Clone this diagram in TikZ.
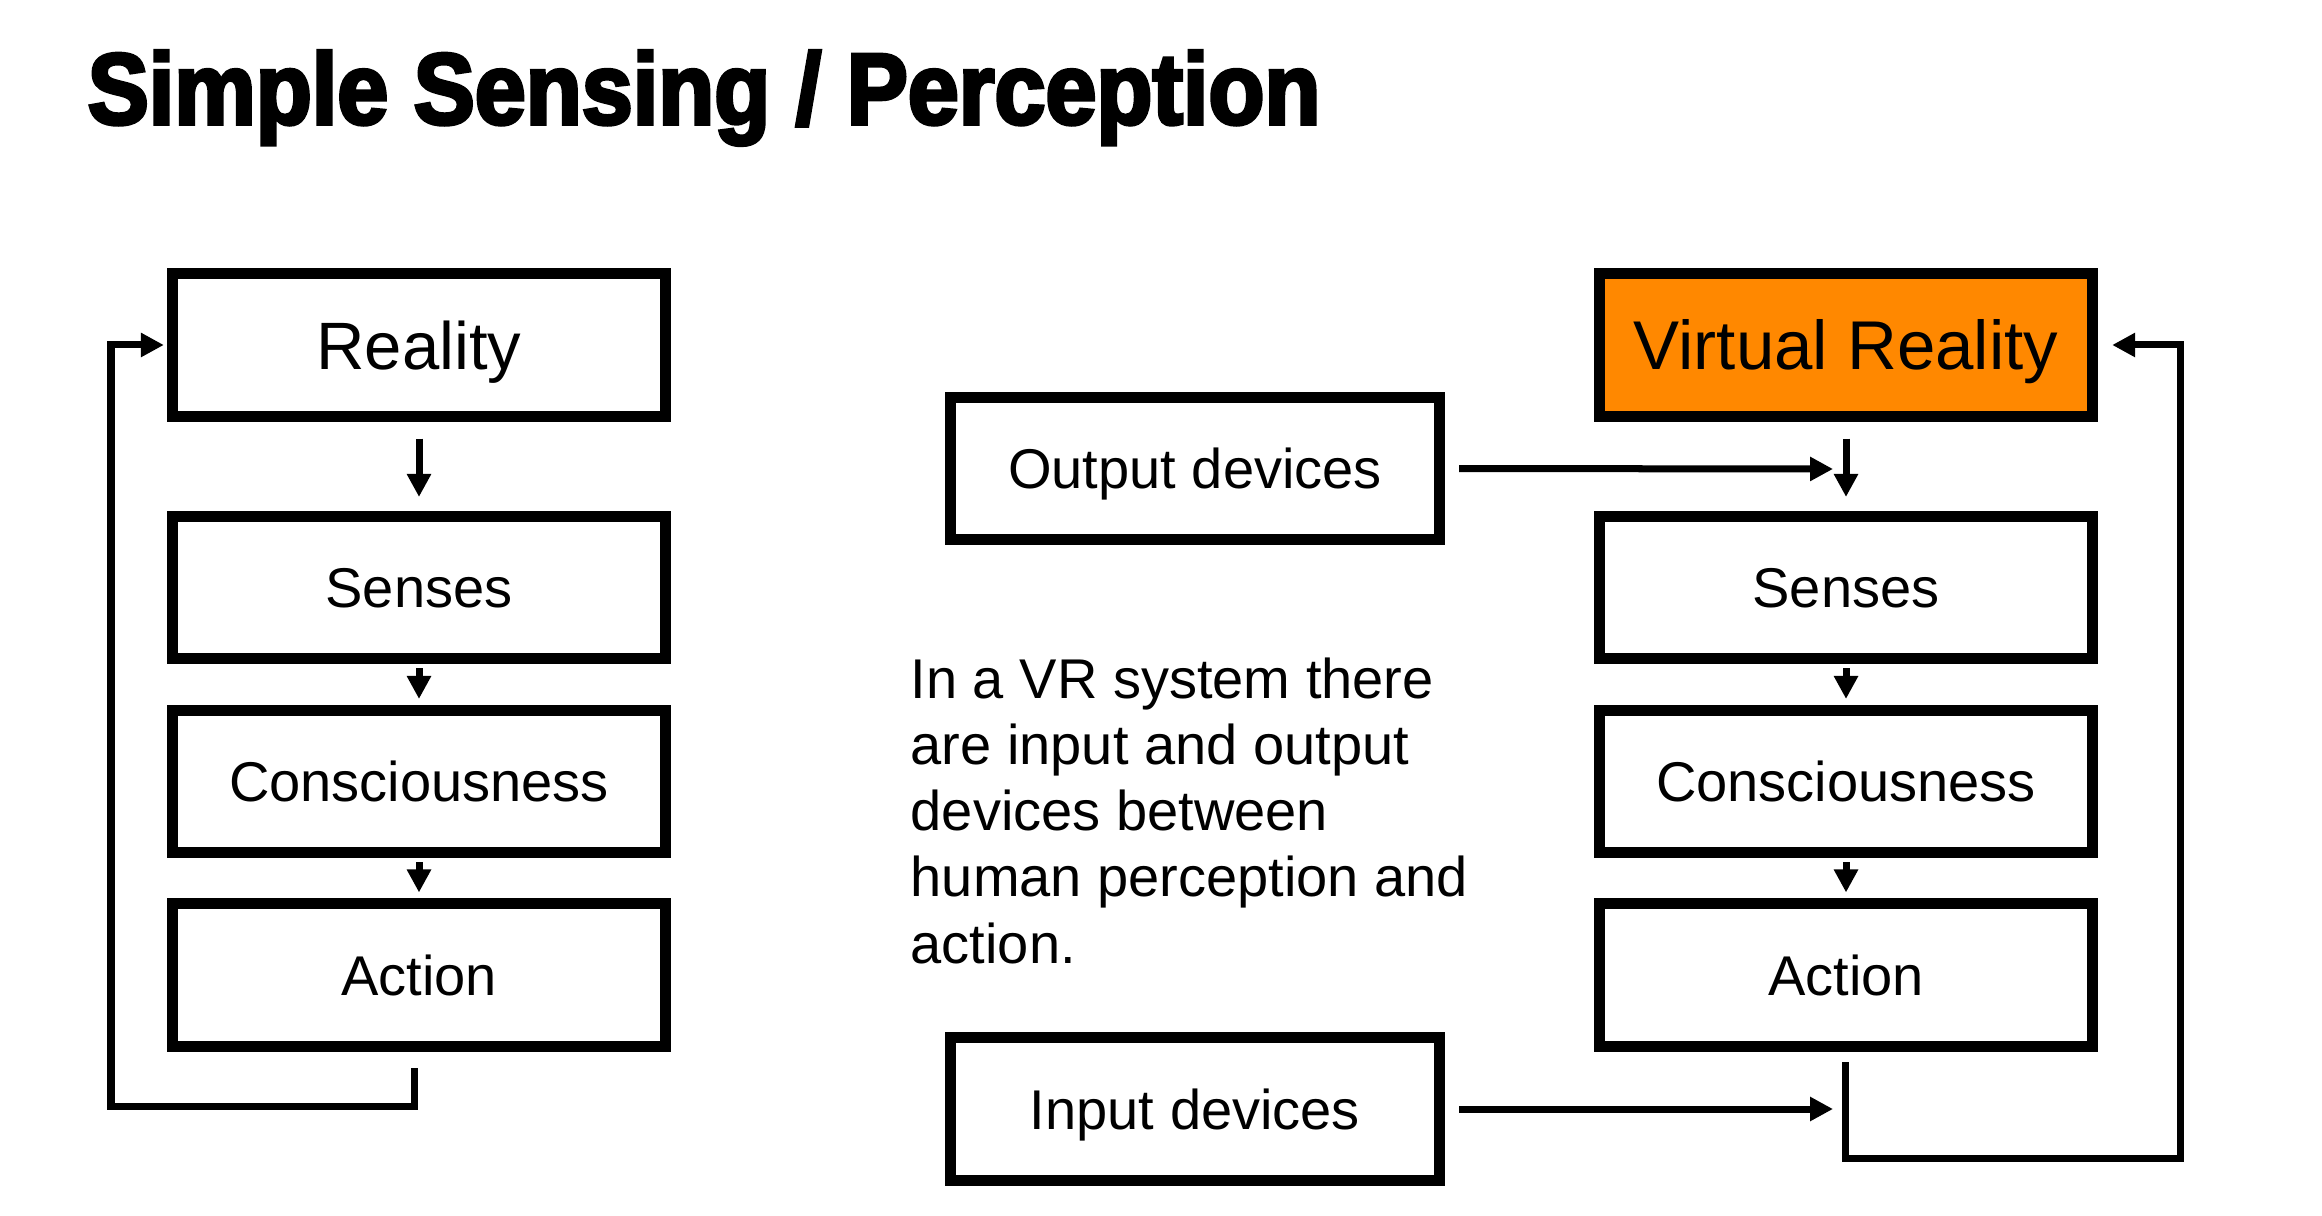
\documentclass[tikz,border=0pt]{standalone}
\usepackage{fontspec}
\setmainfont{Liberation Sans}
\newfontfamily\titlefont{Liberation Sans}[FakeStretch=0.907, BoldFeatures={FakeBold=3.5}]
\usetikzlibrary{arrows.meta}
\definecolor{vrorange}{HTML}{FF8800}
\begin{document}
\begin{tikzpicture}[x=0.01cm, y=-0.01cm,
  box/.style={draw, line width=0.11cm, minimum width=4.93cm, minimum height=1.42cm,
    inner sep=0pt, text height=0.40cm, text depth=0pt,
    font=\fontsize{15.93pt}{18.8pt}\selectfont},
  bigbox/.style={box, text height=0.48cm, font=\fontsize{19.06pt}{22pt}\selectfont},
  devbox/.style={box, minimum width=4.89cm},
  arr/.style={line width=0.07cm, -{Triangle[length=0.23cm, width=0.23cm]}},
  step arr/.style={arr, shorten <=0.04cm, shorten >=0.06cm}]

\path[use as bounding box, fill=white] (0,0) rectangle (2322,1216);

% title
\node[anchor=base west, inner sep=0pt,
  font=\titlefont\bfseries\fontsize{28.74pt}{30pt}\selectfont] (title) at (87,124)
  {Simple Sensing / Perception};

% left column
\node[bigbox] (real) at (419,345) {Reality};
\node[box] (lsen) at (419,587.5) {Senses};
\node[box] (lcon) at (419,781.5) {Consciousness};
\node[box] (lact) at (419,975) {Action};

\draw[arr, shorten <=0.17cm, shorten >=0.14cm] (real.south) -- (lsen.north);
\draw[step arr] (lsen.south) -- (lcon.north);
\draw[step arr] (lcon.south) -- (lact.north);

\coordinate (lloopA) at (414,1068);
\coordinate (lloopB) at (111,1106);
\draw[arr, shorten >=0.03cm] (lloopA) |- (lloopB) |- (real.west);

% right column
\node[bigbox, fill=vrorange, text height=0.494cm, font=\fontsize{19.63pt}{22pt}\selectfont] (vr) at (1846,345) {Virtual Reality};
\node[box] (rsen) at (1846,587.5) {Senses};
\node[box] (rcon) at (1846,781.5) {Consciousness};
\node[box] (ract) at (1846,975) {Action};

\draw[arr, shorten <=0.17cm, shorten >=0.14cm] (vr.south) -- (rsen.north);
\draw[step arr] (rsen.south) -- (rcon.north);
\draw[step arr] (rcon.south) -- (ract.north);

\coordinate (rloopA) at (1845,1062);
\coordinate (rloopB) at (2180,1158);
\draw[arr, shorten >=0.14cm] (rloopA) |- (rloopB) |- (vr.east);

% devices
\node[devbox] (out) at (1195,468.5) {Output devices};
\node[devbox] (in) at (1195,1109) {Input devices};

\coordinate (outtip) at (1833,469);
\coordinate (intip) at (1833,1109);
\draw[arr, shorten <=0.14cm] (out.east) -- (outtip);
\draw[arr, shorten <=0.14cm] (in.east) -- (intip);

% paragraph
\node[anchor=base west, align=left, inner sep=0pt,
  font=\fontsize{15.93pt}{18.78pt}\selectfont] (para) at (910,963)
  {In a VR system there\\are input and output\\devices between\\human perception and\\action.};
\end{tikzpicture}
\end{document}
